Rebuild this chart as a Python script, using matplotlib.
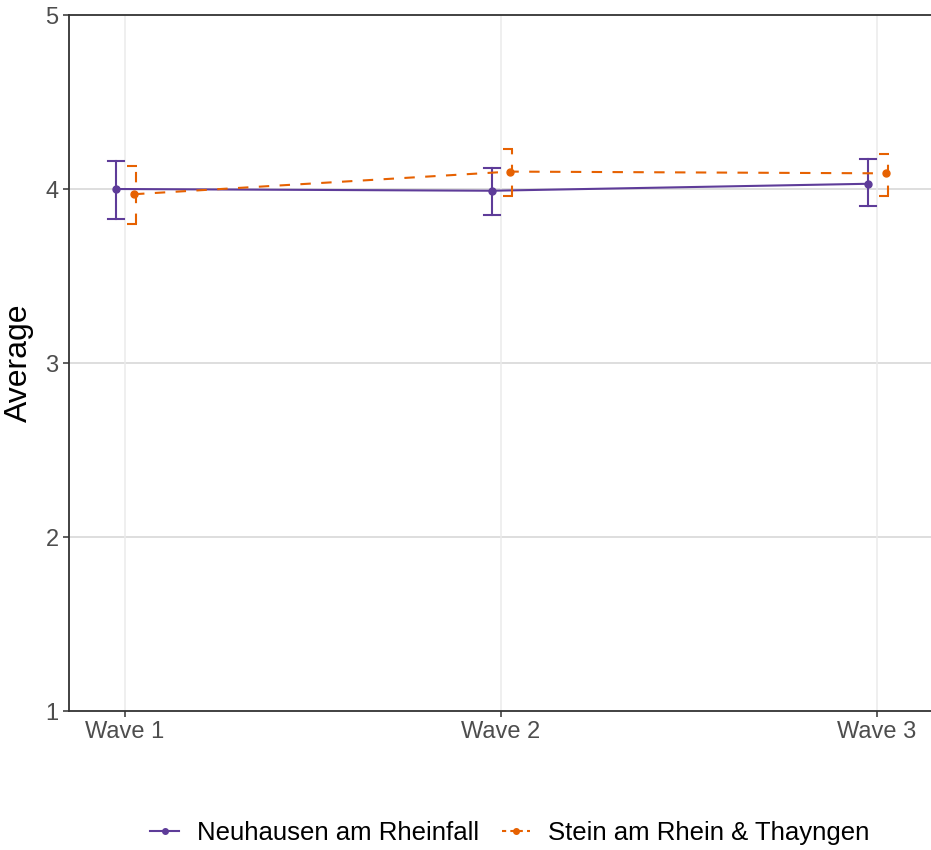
import matplotlib
matplotlib.use("Agg")
import matplotlib.pyplot as plt
from matplotlib.lines import Line2D
import numpy as np

plt.rcParams['font.family'] = ['Liberation Sans', 'DejaVu Sans']

waves = ["Wave 1", "Wave 2", "Wave 3"]
groups = ["Neuhausen am Rheinfall", "Stein am Rhein & Thayngen"]
neu_mean = [4.00, 3.99, 4.03]
neu_low = [3.83, 3.85, 3.90]
neu_high = [4.16, 4.12, 4.17]
stein_mean = [3.97, 4.10, 4.09]
stein_low = [3.80, 3.96, 3.96]
stein_high = [4.13, 4.23, 4.20]

purple = "#5e3c99"
orange = "#e66101"

fig = plt.figure(figsize=(9.31, 8.5), dpi=100)
ax = fig.add_axes([69/931, 139/850, 1 - 69/931, (711-15)/850])

x = np.arange(1, len(waves) + 1)
dodge = 0.024
xn = x - dodge
xs = x + dodge

# grid
for yv in [2, 3, 4]:
    ax.axhline(yv, color="#d4d4d4", lw=1.1, zorder=0)
for xv in x:
    ax.axvline(xv, color="#ebebeb", lw=1.1, zorder=0)

# Neuhausen
ax.plot(xn, neu_mean, color=purple, lw=1.5, zorder=3)
ax.plot(xn, neu_mean, 'o', color=purple, ms=5, zorder=4)
cap = 0.022
for xi, lo, hi in zip(xn, neu_low, neu_high):
    ax.plot([xi, xi], [lo, hi], color=purple, lw=1.5, zorder=3)
    ax.plot([xi - cap, xi + cap], [lo, lo], color=purple, lw=1.5, zorder=3)
    ax.plot([xi - cap, xi + cap], [hi, hi], color=purple, lw=1.5, zorder=3)

# Stein
ax.plot(xs, stein_mean, color=orange, lw=1.5, ls=(0, (5, 5)), zorder=3)
ax.plot(xs, stein_mean, 'o', color=orange, ms=5, zorder=4)
for xi, lo, hi in zip(xs, stein_low, stein_high):
    xb = xi + 0.005
    ax.plot([xb, xb], [lo, hi], color=orange, lw=1.5, ls=(0, (5, 5)), zorder=3)
    ax.plot([xb - 0.024, xb + 0.004], [lo, lo], color=orange, lw=1.5, ls=(0, (5, 5)), zorder=3)
    ax.plot([xb - 0.024, xb + 0.004], [hi, hi], color=orange, lw=1.5, ls=(0, (5, 5)), zorder=3)

ax.set_xlim(0.851, 3.144)
ax.set_ylim(1, 5)
ax.set_xticks(x)
ax.set_xticklabels(waves)
ax.set_yticks([1, 2, 3, 4, 5])
ax.tick_params(axis='both', labelsize=17, labelcolor="#4d4d4d", color="#333333", length=4, width=1.1)
ax.set_ylabel("Average", fontsize=23, color="black", labelpad=8)

for side in ["left", "bottom", "top"]:
    ax.spines[side].set_color("#333333")
    ax.spines[side].set_linewidth(1.3)
ax.spines["right"].set_visible(False)

handles = [
    Line2D([0], [0], color=purple, lw=1.5, marker='o', ms=4),
    Line2D([0], [0], color=orange, lw=1.5, ls=(0, (2, 2)), marker='o', ms=4),
]
fig.legend(handles, groups, loc="center", bbox_to_anchor=(510/931, 1 - 833/850), ncol=2,
           frameon=False, fontsize=18.5, handlelength=1.1, columnspacing=0.9, handletextpad=0.7)

fig.savefig("out.png", dpi=100)
